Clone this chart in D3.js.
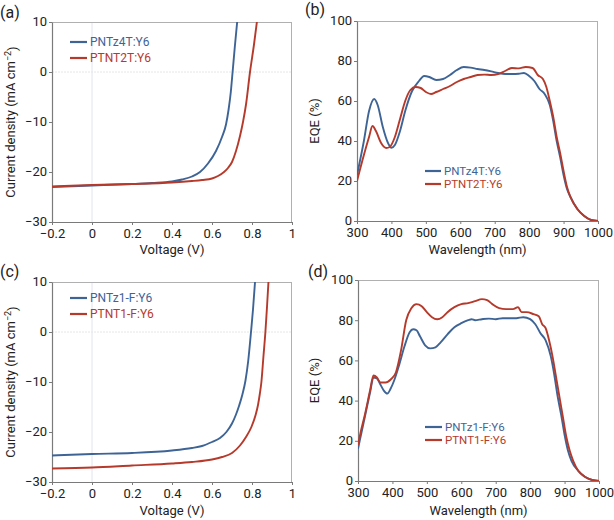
<!DOCTYPE html>
<html><head><meta charset="utf-8">
<script src="https://cdn.jsdelivr.net/npm/d3@7"></script>
<style>
body{margin:0;background:#fff;}
svg{display:block;font-family:Roboto, "Noto Sans", sans-serif;}
</style></head>
<body>
<svg id="c" width="614" height="520"></svg>
<script>
// ---------- DATA ----------
const jvTicksX = [-0.2, 0, 0.2, 0.4, 0.6, 0.8, 1];
const jvTicksY = [-30, -20, -10, 0, 10];
const eqeTicksX = [300, 400, 500, 600, 700, 800, 900, 1000];
const eqeTicksY = [0, 20, 40, 60, 80, 100];

// (a)
const aBlueV = [-0.2, 0, 0.2, 0.3, 0.4, 0.45, 0.5, 0.54, 0.58, 0.62, 0.65, 0.67, 0.683, 0.694, 0.703, 0.714, 0.727];
const aBlueJ = [-23.0, -22.7, -22.4, -22.2, -21.9, -21.5, -20.9, -20.0, -18.3, -15.8, -13.0, -10.5, -7.5, -4, 0, 5, 10.5];
const aRedV = [-0.2, 0, 0.2, 0.4, 0.5, 0.55, 0.6, 0.63, 0.66, 0.68, 0.7, 0.72, 0.74, 0.755, 0.77, 0.79, 0.81, 0.826];
const aRedJ = [-22.9, -22.6, -22.4, -22.1, -21.8, -21.6, -21.3, -20.8, -20.0, -19.2, -18.0, -15.8, -12.8, -10, -6.5, 0, 5.5, 10.5];
const aNames = ["PNTz4T:Y6", "PTNT2T:Y6"];

// (c)
const cBlueV = [-0.2, 0, 0.2, 0.4, 0.5, 0.55, 0.6, 0.64, 0.672, 0.7, 0.72, 0.735, 0.752, 0.767, 0.781, 0.795, 0.805, 0.816];
const cBlueJ = [-24.7, -24.4, -24.2, -23.7, -23.2, -22.8, -22.0, -21.2, -20.0, -18.3, -16.5, -14.8, -12.5, -9.8, -5.8, 0, 4.5, 10.5];
const cRedV = [-0.2, 0, 0.2, 0.4, 0.5, 0.6, 0.65, 0.7, 0.74, 0.77, 0.797, 0.818, 0.83, 0.839, 0.847, 0.857, 0.867, 0.875, 0.883];
const cRedJ = [-27.3, -27.1, -26.7, -26.3, -26.0, -25.5, -25.0, -24.2, -22.7, -21.0, -19.0, -16.6, -14.6, -12.4, -10, -5, 0, 5, 10.5];
const cNames = ["PNTz1-F:Y6", "PTNT1-F:Y6"];

// (b)
const bBlueW = [300,320,335,350,360,375,390,400,410,425,440,460,480,495,510,530,550,570,590,610,630,650,670,690,710,730,750,770,785,800,815,830,845,860,870,880,890,900,910,920,940,960,980,1000];
const bBlueE = [23,40,55,61,58,47,39,36.6,38,45,55,65,70,72.5,72,70.5,71,73,75.5,77,76.7,76,75.5,74.8,74,73.5,73.5,73.6,74,72.5,70,66,63.5,58,50,40,32,23,16,12,6,2.5,0.5,0];
const bRedW = [300,320,335,345,355,370,385,395,410,425,440,455,470,485,500,515,530,550,570,590,610,630,650,670,690,710,730,750,770,790,810,825,840,850,860,870,880,890,900,910,920,940,960,980,1000];
const bRedE = [20,33,42,47.5,45,39,36.5,37,42,51,60,65.5,67,66.5,64.5,63.5,64.5,66,67.5,69.5,71,72,73,73.2,73,73.5,75,76.5,76.3,77,76.5,73,71,67,60,52,42,34,25,17,12,6,2.5,0.5,0];
const bNames = ["PNTz4T:Y6", "PTNT2T:Y6"];

// (d)
const dBlueW = [300,310,320,335,345,355,365,375,385,395,405,420,435,450,460,470,480,495,510,525,540,560,580,600,620,630,640,660,680,700,720,740,760,780,800,815,830,845,860,870,880,890,900,910,920,940,960,980,1000];
const dBlueE = [16,24,32,44,51.5,51,48,45,43.5,46,50,58,67,74,75.5,75,72,67.5,66,66.5,69,73,76.5,78.5,80,80.5,80,80.5,80.8,80.5,81,81,81,81.5,80.5,78,73.5,70,62,53,42,33,23,15,10,5,2,0.5,0];
const dRedW = [300,310,320,335,345,355,365,380,395,410,425,440,455,470,485,500,515,530,545,560,580,600,620,640,660,675,690,710,730,750,765,775,790,810,825,835,845,855,865,875,885,895,905,915,925,940,960,980,1000];
const dRedE = [18,26,33,45,52.5,51.5,49,49,50.5,54,65,80,86,88,87,84,81.5,80.5,81.5,84,86.5,88,88.5,89.5,90.5,90,88,86,85.5,85.5,86.5,84,84,83,82,78,76,70,62,52,42,32,22,15,10,5,2,0.5,0];
const dNames = ["PNTz1-F:Y6", "PTNT1-F:Y6"];

// ---------- STYLE ----------
const BLUE = "#3e6496", RED = "#b63a2b";
const svg = d3.select("#c");

function panel(opt){
  const {x0,x1,y0,y1,xd,yd,xt,yt,xfmt,xtitle,ytitle,label,labelPos,series,names,leg,zeroGrid,ytitleX} = opt;
  const x = d3.scaleLinear().domain(xd).range([x0,x1]);
  const y = d3.scaleLinear().domain(yd).range([y1,y0]);
  const g = svg.append("g");
  const id = "clip"+label.replace(/\W/g,"");
  svg.append("clipPath").attr("id",id).append("rect").attr("x",x0).attr("y",y0).attr("width",x1-x0).attr("height",y1-y0);
  if(zeroGrid){
    g.append("line").attr("x1",x(0)).attr("x2",x(0)).attr("y1",y0).attr("y2",y1).attr("stroke","#dfe4f0").attr("stroke-width",1);
    g.append("line").attr("x1",x0).attr("x2",x1).attr("y1",y(0)).attr("y2",y(0)).attr("stroke","#e6e6e6").attr("stroke-width",1).attr("stroke-dasharray","2,1");
  }
  g.append("line").attr("x1",x0).attr("x2",x1).attr("y1",y0+0.5).attr("y2",y0+0.5).attr("stroke","#b0b0b0");
  g.append("line").attr("x1",x1-0.5).attr("x2",x1-0.5).attr("y1",y0).attr("y2",y1).attr("stroke","#b0b0b0");
  const xa = g.append("g").attr("transform",`translate(0,${y1})`)
    .call(d3.axisBottom(x).tickValues(xt).tickFormat(xfmt).tickSize(3).tickSizeOuter(0));
  const ya = g.append("g").attr("transform",`translate(${x0},0)`)
    .call(d3.axisLeft(y).tickValues(yt).tickFormat(d3.format("d")).tickSize(3).tickSizeOuter(0));
  [xa,ya].forEach(a=>{
    a.select(".domain").attr("stroke","#7a7a7a").attr("stroke-width",1.2);
    a.selectAll(".tick line").attr("stroke","#7a7a7a");
    a.selectAll("text").attr("font-size",13).attr("fill","#222").attr("font-family","Roboto, sans-serif");
  });
  xa.selectAll("text").attr("y",7);
  ya.selectAll("text").attr("x",-5).attr("dy","0.3em");
  const line = d3.line().x(d=>x(d[0])).y(d=>y(d[1])).curve(d3.curveMonotoneX);
  const cg = g.append("g").attr("clip-path",`url(#${id})`);
  series.forEach((s,i)=>{
    cg.append("path").datum(d3.zip(s.xs,s.ys)).attr("d",line)
      .attr("fill","none").attr("stroke",s.color).attr("stroke-width",1.9).attr("stroke-linejoin","round");
  });
  names.forEach((n,i)=>{
    const ly = leg.y + i*leg.dy;
    g.append("line").attr("x1",leg.x).attr("x2",leg.x+leg.len).attr("y1",ly).attr("y2",ly)
      .attr("stroke",series[i].color).attr("stroke-width",2.2);
    g.append("text").attr("x",leg.x+leg.len+3).attr("y",ly).attr("dy","0.35em")
      .attr("font-size",leg.fs).attr("fill",series[i].color).text(n);
  });
  g.append("text").attr("x",(x0+x1)/2).attr("y",y1+opt.xtitleDy).attr("text-anchor","middle")
    .attr("font-size",13).attr("fill","#222").text(xtitle);
  const yt2 = g.append("text").attr("transform",`translate(${ytitleX},${(y0+y1)/2}) rotate(-90)`)
    .attr("text-anchor","middle").attr("font-size",13).attr("fill","#222");
  if(ytitle.sup){
    yt2.append("tspan").text(ytitle.main);
    yt2.append("tspan").attr("dy","-0.45em").attr("font-size",9).text(ytitle.sup);
    yt2.append("tspan").attr("dy","0.45em").text(ytitle.end);
  } else yt2.text(ytitle.main);
  svg.append("text").attr("x",labelPos[0]).attr("y",labelPos[1]).attr("font-size",16).attr("fill","#222").text(label);
}

const jvFmt = d=> d===0?"0":(d===1?"1":d3.format(".1f")(d));
const jvTitle = {main:"Current density (mA cm", sup:"\u22122", end:")"};

panel({x0:52,x1:292,y0:22,y1:222,xd:[-0.2,1],yd:[-30,10],xt:jvTicksX,yt:jvTicksY,xfmt:jvFmt,
  xtitle:"Voltage (V)",ytitle:jvTitle,ytitleX:15,xtitleDy:32,label:"(a)",labelPos:[0,18],zeroGrid:true,
  series:[{xs:aBlueV,ys:aBlueJ,color:BLUE},{xs:aRedV,ys:aRedJ,color:RED}],names:aNames,
  leg:{x:70,y:42,dy:16,len:17,fs:12}});
panel({x0:357,x1:598,y0:21,y1:221,xd:[300,1000],yd:[0,100],xt:eqeTicksX,yt:eqeTicksY,xfmt:d3.format("d"),
  xtitle:"Wavelength (nm)",ytitle:{main:"EQE (%)"},ytitleX:319,xtitleDy:33,label:"(b)",labelPos:[305,15],zeroGrid:false,
  series:[{xs:bBlueW,ys:bBlueE,color:BLUE},{xs:bRedW,ys:bRedE,color:RED}],names:bNames,
  leg:{x:425,y:171,dy:13,len:16,fs:11.5}});
panel({x0:52,x1:292,y0:282,y1:482,xd:[-0.2,1],yd:[-30,10],xt:jvTicksX,yt:jvTicksY,xfmt:jvFmt,
  xtitle:"Voltage (V)",ytitle:jvTitle,ytitleX:15,xtitleDy:33,label:"(c)",labelPos:[0,277],zeroGrid:true,
  series:[{xs:cBlueV,ys:cBlueJ,color:BLUE},{xs:cRedV,ys:cRedJ,color:RED}],names:cNames,
  leg:{x:70,y:298,dy:16,len:17,fs:12}});
panel({x0:358,x1:599,y0:280,y1:481,xd:[300,1000],yd:[0,100],xt:eqeTicksX,yt:eqeTicksY,xfmt:d3.format("d"),
  xtitle:"Wavelength (nm)",ytitle:{main:"EQE (%)"},ytitleX:319,xtitleDy:34,label:"(d)",labelPos:[308,277],zeroGrid:false,
  series:[{xs:dBlueW,ys:dBlueE,color:BLUE},{xs:dRedW,ys:dRedE,color:RED}],names:dNames,
  leg:{x:425,y:427,dy:13,len:17,fs:11.5}});
</script>
</body></html>
